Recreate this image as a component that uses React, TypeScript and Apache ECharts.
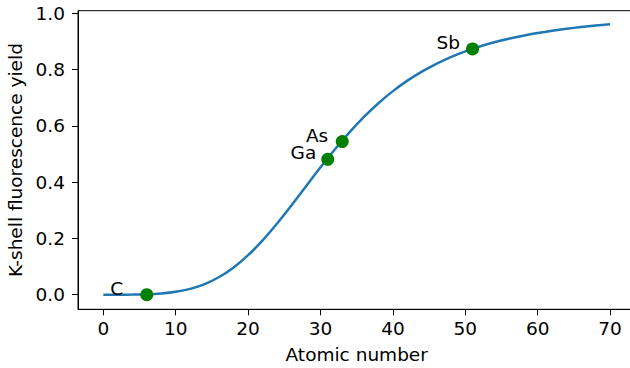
import React, { useEffect, useRef } from "react";
import * as echarts from "echarts";

// Curve: atomic number vs K-shell fluorescence yield
const atomicNumbers = [0, 2, 4, 6, 8, 10, 12, 14, 16, 18, 20, 22, 24, 26, 28, 30, 32, 34, 36, 38, 40, 42, 44, 46, 48, 50, 52, 54, 56, 58, 60, 62, 64, 66, 68, 70];
const yieldValues = [0, 0.0, 0.0003, 0.0013, 0.0042, 0.0101, 0.0207, 0.0377, 0.0627, 0.0968, 0.1404, 0.1929, 0.2529, 0.318, 0.3854, 0.4525, 0.5169, 0.5769, 0.6315, 0.6803, 0.7232, 0.7605, 0.7927, 0.8204, 0.8442, 0.8645, 0.8818, 0.8967, 0.9094, 0.9203, 0.9297, 0.9378, 0.9448, 0.9509, 0.9562, 0.9608];

// Highlighted elements
const elementNames = ["C", "Ga", "As", "Sb"];
const elementZ = [6, 31, 33, 51];
const elementYield = [0.0, 0.481, 0.544, 0.873];

const xTicks = [0, 10, 20, 30, 40, 50, 60, 70];
const yTicks = [0, 0.2, 0.4, 0.6, 0.8, 1.0];

const FONT = "DejaVu Sans";
const FS = 18.5;

export default function App() {
  const ref = useRef<HTMLDivElement>(null);
  useEffect(() => {
    document.body.style.margin = "0";
    const chart = echarts.init(ref.current!, null, { renderer: "svg" });
    const labelDistance: Record<string, number> = { C: 17, Ga: 5, As: 7.5, Sb: 6 };
    const axisCommon = {
      type: "value" as const,
      axisLine: { show: true, onZero: false, lineStyle: { color: "#000", width: 1 } },
      splitLine: { show: false },
      nameTextStyle: { fontFamily: FONT, fontSize: FS, color: "#000" },
    };
    chart.setOption({
      animation: false,
      backgroundColor: "#fff",
      grid: {
        left: 78,
        top: 10.7,
        width: 557.4,
        height: 298.6,
        show: true,
        borderColor: "#000",
        borderWidth: 1,
        backgroundColor: "transparent",
        containLabel: false,
        outerBoundsMode: "none",
      },
      xAxis: {
        ...axisCommon,
        min: -3.5,
        max: 73.5,
        name: "Atomic number",
        nameLocation: "middle",
        nameGap: 36,
        axisTick: { show: true, length: 6, inside: false, customValues: xTicks, lineStyle: { color: "#000" } },
        axisLabel: {
          customValues: xTicks,
          margin: 10,
          fontFamily: FONT,
          fontSize: FS,
          color: "#000",
          formatter: (v: number) => String(v),
        },
      },
      yAxis: {
        ...axisCommon,
        min: -0.052,
        max: 1.009,
        name: "K-shell fluorescence yield",
        nameLocation: "middle",
        nameGap: 50,
        axisTick: { show: true, length: 6, inside: false, customValues: yTicks, lineStyle: { color: "#000" } },
        axisLabel: {
          customValues: yTicks,
          margin: 13,
          fontFamily: FONT,
          fontSize: FS,
          color: "#000",
          formatter: (v: number) => v.toFixed(1),
        },
      },
      series: [
        {
          type: "line",
          data: atomicNumbers.map((z, i) => [z, yieldValues[i]]),
          showSymbol: false,
          smooth: 0.3,
          lineStyle: { color: "#1f77b4", width: 2.5 },
          z: 2,
        },
        {
          type: "scatter",
          symbolSize: 13,
          itemStyle: { color: "#008000", opacity: 1 },
          z: 3,
          data: elementNames.map((n, i) => ({
            name: n,
            value: [elementZ[i], elementYield[i]],
            label: {
              show: true,
              position: "left",
              distance: labelDistance[n],
              offset: [0, -6.5],
              formatter: n,
              fontFamily: FONT,
              fontSize: FS,
              color: "#000",
            },
          })),
        },
      ],
    });
    return () => chart.dispose();
  }, []);
  return <div ref={ref} style={{ width: 630, height: 368 }} />;
}
